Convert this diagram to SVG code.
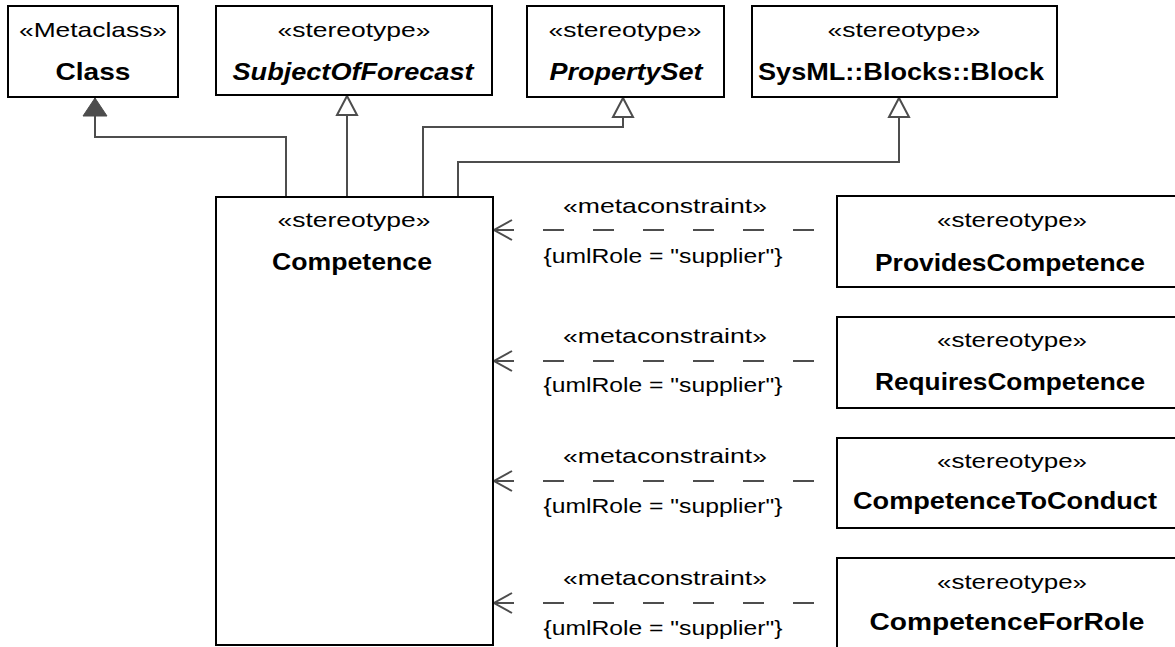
<svg xmlns="http://www.w3.org/2000/svg" width="1175" height="647" viewBox="0 0 1175 647">
<style>
  .box{fill:#fff;stroke:#000;stroke-width:2}
  .st{font-family:"Liberation Sans",Arial,sans-serif;font-size:21px;text-anchor:middle;fill:#000}
  .nm{font-family:"Liberation Sans",Arial,sans-serif;font-size:24px;font-weight:bold;text-anchor:middle;fill:#000}
  .it{font-style:italic}
  .gen{fill:none;stroke:#4d4d4d;stroke-width:2}
  .dep{fill:none;stroke:#4d4d4d;stroke-width:2;stroke-dasharray:21 29;stroke-dashoffset:28}
  .lbl{font-family:"Liberation Sans",Arial,sans-serif;font-size:21px;text-anchor:middle;fill:#000}
</style>
<defs>
  <marker id="hollow" markerUnits="userSpaceOnUse" markerWidth="22" markerHeight="24" refX="19" refY="11" orient="auto" overflow="visible">
    <path d="M0,1 L19,11 L0,21 Z" fill="#fff" stroke="#4d4d4d" stroke-width="2"/>
  </marker>
  <marker id="filled" markerUnits="userSpaceOnUse" markerWidth="22" markerHeight="26" refX="18" refY="12" orient="auto" overflow="visible">
    <path d="M0,0 L18,12 L0,24 Z" fill="#4d4d4d" stroke="#4d4d4d" stroke-width="1"/>
  </marker>
  <marker id="open" markerUnits="userSpaceOnUse" markerWidth="20" markerHeight="24" refX="18" refY="11" orient="auto" overflow="visible">
    <path d="M0,1 L18,11 L0,21" fill="none" stroke="#4d4d4d" stroke-width="2" stroke-dasharray="none"/>
  </marker>
</defs>

<g id="connectors">
  <path class="gen" d="M286,197 V137 H95 V98" marker-end="url(#filled)"/>
  <path class="gen" d="M347,197 V96" marker-end="url(#hollow)"/>
  <path class="gen" d="M423,197 V127 H623 V98" marker-end="url(#hollow)"/>
  <path class="gen" d="M458,197 V162 H899 V98" marker-end="url(#hollow)"/>

  <path class="dep" d="M836,230 H494" marker-end="url(#open)"/>
  <text class="lbl" x="665" y="213" textLength="204" lengthAdjust="spacingAndGlyphs">«metaconstraint»</text>
  <text class="lbl" x="663" y="263" textLength="239" lengthAdjust="spacingAndGlyphs">{umlRole = "supplier"}</text>

  <path class="dep" d="M836,361 H494" marker-end="url(#open)"/>
  <text class="lbl" x="665" y="343" textLength="204" lengthAdjust="spacingAndGlyphs">«metaconstraint»</text>
  <text class="lbl" x="663" y="392" textLength="239" lengthAdjust="spacingAndGlyphs">{umlRole = "supplier"}</text>

  <path class="dep" d="M836,481 H494" marker-end="url(#open)"/>
  <text class="lbl" x="665" y="463" textLength="204" lengthAdjust="spacingAndGlyphs">«metaconstraint»</text>
  <text class="lbl" x="663" y="513" textLength="239" lengthAdjust="spacingAndGlyphs">{umlRole = "supplier"}</text>

  <path class="dep" d="M836,603 H494" marker-end="url(#open)"/>
  <text class="lbl" x="665" y="585" textLength="204" lengthAdjust="spacingAndGlyphs">«metaconstraint»</text>
  <text class="lbl" x="663" y="635" textLength="239" lengthAdjust="spacingAndGlyphs">{umlRole = "supplier"}</text>
</g>

<g id="Class">
  <rect class="box" x="8" y="6" width="170" height="91"/>
  <text class="st" x="93" y="37" textLength="148" lengthAdjust="spacingAndGlyphs">«Metaclass»</text>
  <text class="nm" x="93" y="80" textLength="75" lengthAdjust="spacingAndGlyphs">Class</text>
</g>
<g id="SubjectOfForecast">
  <rect class="box" x="216" y="6" width="276" height="89"/>
  <text class="st" x="354" y="37" textLength="153" lengthAdjust="spacingAndGlyphs">«stereotype»</text>
  <text class="nm it" x="353" y="80" textLength="241" lengthAdjust="spacingAndGlyphs">SubjectOfForecast</text>
</g>
<g id="PropertySet">
  <rect class="box" x="527" y="6" width="197" height="91"/>
  <text class="st" x="625" y="37" textLength="153" lengthAdjust="spacingAndGlyphs">«stereotype»</text>
  <text class="nm it" x="626" y="80" textLength="153" lengthAdjust="spacingAndGlyphs">PropertySet</text>
</g>
<g id="Block">
  <rect class="box" x="752" y="6" width="305" height="91"/>
  <text class="st" x="904" y="37" textLength="153" lengthAdjust="spacingAndGlyphs">«stereotype»</text>
  <text class="nm" x="901" y="80" textLength="286" lengthAdjust="spacingAndGlyphs">SysML::Blocks::Block</text>
</g>
<g id="Competence">
  <rect class="box" x="216" y="197" width="277" height="448"/>
  <text class="st" x="354" y="227" textLength="153" lengthAdjust="spacingAndGlyphs">«stereotype»</text>
  <text class="nm" x="352" y="270" textLength="160" lengthAdjust="spacingAndGlyphs">Competence</text>
</g>
<g id="ProvidesCompetence">
  <rect class="box" x="837" y="196" width="350" height="91"/>
  <text class="st" x="1012" y="227" textLength="150" lengthAdjust="spacingAndGlyphs">«stereotype»</text>
  <text class="nm" x="1010" y="271" textLength="270" lengthAdjust="spacingAndGlyphs">ProvidesCompetence</text>
</g>
<g id="RequiresCompetence">
  <rect class="box" x="837" y="317" width="350" height="91"/>
  <text class="st" x="1012" y="347" textLength="150" lengthAdjust="spacingAndGlyphs">«stereotype»</text>
  <text class="nm" x="1010" y="390" textLength="270" lengthAdjust="spacingAndGlyphs">RequiresCompetence</text>
</g>
<g id="CompetenceToConduct">
  <rect class="box" x="837" y="438" width="350" height="90"/>
  <text class="st" x="1012" y="468" textLength="150" lengthAdjust="spacingAndGlyphs">«stereotype»</text>
  <text class="nm" x="1005" y="509" textLength="304" lengthAdjust="spacingAndGlyphs">CompetenceToConduct</text>
</g>
<g id="CompetenceForRole">
  <rect class="box" x="837" y="558" width="350" height="100"/>
  <text class="st" x="1012" y="589" textLength="150" lengthAdjust="spacingAndGlyphs">«stereotype»</text>
  <text class="nm" x="1007" y="630" textLength="275" lengthAdjust="spacingAndGlyphs">CompetenceForRole</text>
</g>
</svg>
